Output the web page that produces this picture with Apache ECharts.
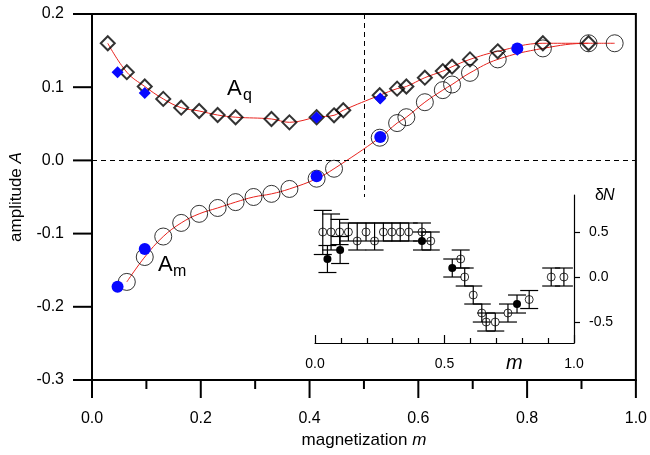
<!DOCTYPE html>
<html>
<head>
<meta charset="utf-8">
<script src="https://cdn.jsdelivr.net/npm/echarts@6/dist/echarts.min.js"></script>
<style>
  html, body { margin: 0; padding: 0; background: #fff; }
  #wrap { position: relative; width: 650px; height: 455px; }
  #chart, #inset { position: absolute; left: 0; top: 0; width: 650px; height: 455px; }
</style>
</head>
<body>
<div id="wrap">
  <div id="chart"></div>
  <div id="inset"></div>
</div>
<script>
// main plot: A_q (open diamonds) and A_m (open circles), blue = filled points
const mQ = [0.029, 0.064, 0.097, 0.131, 0.164, 0.197, 0.231, 0.264, 0.330, 0.363, 0.413, 0.445, 0.462,
  0.529, 0.561, 0.578, 0.612, 0.645, 0.662, 0.695, 0.746, 0.829, 0.913];
const aQ = [0.160, 0.1205, 0.101, 0.084, 0.072, 0.0675, 0.062, 0.059, 0.0566, 0.052, 0.059, 0.0616, 0.0685,
  0.089, 0.098, 0.101, 0.113, 0.122, 0.128, 0.138, 0.149, 0.160, 0.160];
const mQblue = [0.047, 0.097, 0.413, 0.530, 0.782];
const aQblue = [0.1205, 0.092, 0.0585, 0.0845, 0.151];

const mM = [0.064, 0.097, 0.131, 0.164, 0.197, 0.231, 0.264, 0.297, 0.330, 0.363, 0.413, 0.445,
  0.529, 0.561, 0.578, 0.612, 0.645, 0.662, 0.695, 0.746, 0.829, 0.913, 0.961];
const aM = [-0.166, -0.132, -0.104, -0.0854, -0.073, -0.065, -0.057, -0.050, -0.0457, -0.039, -0.025, -0.0114,
  0.031, 0.051, 0.059, 0.0795, 0.096, 0.1037, 0.1196, 0.138, 0.153, 0.160, 0.160];
const mMblue = [0.047, 0.097, 0.413, 0.530, 0.782];
const aMblue = [-0.1726, -0.121, -0.0215, 0.032, 0.153];

// main axis tick values
const xMajor = [0, 0.2, 0.4, 0.6, 0.8, 1.0];
const xMinor = [0.1, 0.3, 0.5, 0.7, 0.9];
const yMajor = [-0.3, -0.2, -0.1, 0, 0.1, 0.2];
const X_MIN = 0, Y_MIN = -0.3;

// inset: deltaN with error bars
const inM = [0.030, 0.062, 0.095, 0.129, 0.163, 0.197, 0.230, 0.264, 0.297, 0.329, 0.362, 0.413, 0.447,
  0.5625, 0.578, 0.611, 0.644, 0.661, 0.696, 0.745, 0.827, 0.912, 0.961];
const inN = [0.5, 0.5, 0.5, 0.5, 0.4, 0.5, 0.4, 0.5, 0.5, 0.5, 0.5, 0.5, 0.4,
  0.2, 0.0, -0.2, -0.4, -0.5, -0.5, -0.4, -0.25, 0.0, 0.0];
const inLo = [0.25, 0.3, 0.36, 0.4, 0.3, 0.4, 0.3, 0.4, 0.4, 0.4, 0.4, 0.4, 0.3,
  0.1, -0.1, -0.3, -0.5, -0.6, -0.6, -0.5, -0.35, -0.1, -0.1];
const inHi = [0.74, 0.7, 0.64, 0.6, 0.6, 0.6, 0.6, 0.6, 0.6, 0.6, 0.6, 0.6, 0.5,
  0.3, 0.1, -0.1, -0.3, -0.4, -0.4, -0.3, -0.15, 0.1, 0.1];
const fM = [0.048, 0.097, 0.413, 0.530, 0.780];
const fN = [0.2, 0.3, 0.4, 0.1, -0.3];
const fLo = [0.05, 0.15, 0.3, 0.0, -0.4];
const fHi = [0.35, 0.45, 0.5, 0.2, -0.2];

const insetYTicks = [-0.5, 0, 0.5];

const zip = (a, b) => a.map((v, i) => [v, b[i]]);
const zip3 = (a, b, c) => a.map((v, i) => [v, b[i], c[i]]);

const FONT = 'Liberation Sans, Arial, Helvetica, sans-serif';
const BLUE = '#0808ff';
const RED = '#e8231e';

function errorBar(params, api) {
  const x = api.value(0);
  const lo = api.coord([x, api.value(1)]);
  const hi = api.coord([x, api.value(2)]);
  const w = 9;
  const st = { stroke: '#000', lineWidth: 1.2 };
  return {
    type: 'group',
    children: [
      { type: 'line', shape: { x1: lo[0], y1: lo[1], x2: hi[0], y2: hi[1] }, style: st },
      { type: 'line', shape: { x1: lo[0] - w, y1: lo[1], x2: lo[0] + w, y2: lo[1] }, style: st },
      { type: 'line', shape: { x1: hi[0] - w, y1: hi[1], x2: hi[0] + w, y2: hi[1] }, style: st }
    ]
  };
}

// the axis ticks of the main grid do not come out in this build, so they are
// drawn from the tick values through the grid's own scales
function xTick(len) {
  return function (params, api) {
    const p = api.coord([api.value(0), Y_MIN]);
    return { type: 'line', shape: { x1: p[0], y1: p[1], x2: p[0], y2: p[1] + len },
      style: { stroke: '#000', lineWidth: 2 } };
  };
}
function yTick(len) {
  return function (params, api) {
    const p = api.coord([X_MIN, api.value(0)]);
    return { type: 'line', shape: { x1: p[0] - len, y1: p[1], x2: p[0], y2: p[1] },
      style: { stroke: '#000', lineWidth: 2 } };
  };
}

// main chart
const chart = echarts.init(document.getElementById('chart'));
chart.setOption({
  animation: false,
  grid: { left: 91, right: 14, top: 14, bottom: 75, show: true, borderColor: '#000', borderWidth: 2 },
  xAxis: {
    type: 'value', min: 0, max: 1, interval: 0.2,
    name: 'magnetization {i|m}', nameLocation: 'middle', nameGap: 51,
    nameTextStyle: { fontSize: 17, color: '#000', fontFamily: FONT,
      rich: { i: { fontSize: 17, fontStyle: 'italic', fontFamily: FONT } } },
    axisLine: { show: true, onZero: false, lineStyle: { color: '#000', width: 2 } },
    axisTick: { show: false },
    axisLabel: { fontSize: 16, color: '#000', fontFamily: FONT, margin: 31, formatter: v => v.toFixed(1) },
    splitLine: { show: false }
  },
  yAxis: {
    type: 'value', min: -0.3, max: 0.2, interval: 0.1,
    name: 'amplitude {i|A}', nameLocation: 'middle', nameGap: 67,
    nameTextStyle: { fontSize: 17, color: '#000', fontFamily: FONT,
      rich: { i: { fontSize: 17, fontStyle: 'italic', fontFamily: FONT } } },
    axisLine: { show: true, onZero: false, lineStyle: { color: '#000', width: 2 } },
    axisTick: { show: false },
    axisLabel: { fontSize: 16, color: '#000', fontFamily: FONT, margin: 28, formatter: v => v.toFixed(1) },
    splitLine: { show: false }
  },
  graphic: [
    { type: 'text', left: 227, top: 78, style: { text: 'A', font: '22px ' + FONT, fill: '#000' } },
    { type: 'text', left: 243, top: 88, style: { text: 'q', font: '16px ' + FONT, fill: '#000' } },
    { type: 'text', left: 158, top: 254, style: { text: 'A', font: '22px ' + FONT, fill: '#000' } },
    { type: 'text', left: 173, top: 264, style: { text: 'm', font: '16px ' + FONT, fill: '#000' } }
  ],
  series: [
    {
      type: 'custom', renderItem: xTick(18), clip: false, silent: true,
      data: xMajor.map(v => [v]), encode: { x: 0 }, z: 1
    },
    {
      type: 'custom', renderItem: xTick(9), clip: false, silent: true,
      data: xMinor.map(v => [v]), encode: { x: 0 }, z: 1
    },
    {
      type: 'custom', renderItem: yTick(19), clip: false, silent: true,
      data: yMajor.map(v => [v]), encode: { y: 0 }, z: 1
    },
    {
      type: 'line', data: zip(mQ, aQ), smooth: 0.4,
      symbol: 'none', lineStyle: { color: RED, width: 1 }, z: 2,
      markLine: {
        silent: true, symbol: 'none', label: { show: false },
        lineStyle: { color: '#000', width: 1, type: [5, 4] },
        data: [
          { yAxis: 0 },
          [{ coord: [0.5, 0.2] }, { coord: [0.5, -0.05] }]
        ]
      }
    },
    {
      type: 'line', data: zip(mM, aM), smooth: 0.4,
      symbol: 'none', lineStyle: { color: RED, width: 1 }, z: 2
    },
    {
      type: 'scatter', data: zip(mQ, aQ), symbol: 'diamond', symbolSize: 14,
      itemStyle: { color: 'rgba(0,0,0,0)', borderColor: '#000', borderWidth: 2 }, z: 3
    },
    {
      type: 'scatter', data: zip(mM, aM), symbol: 'circle', symbolSize: 17,
      itemStyle: { color: 'rgba(0,0,0,0)', borderColor: '#000', borderWidth: 1 }, z: 3
    },
    {
      type: 'scatter', data: zip(mQblue, aQblue), symbol: 'diamond', symbolSize: 12,
      itemStyle: { color: BLUE, opacity: 1 }, z: 4
    },
    {
      type: 'scatter', data: zip(mMblue, aMblue), symbol: 'circle', symbolSize: 12,
      itemStyle: { color: BLUE, opacity: 1 }, z: 4
    }
  ]
});

// inset chart, overlaid on top with a transparent background
const inset = echarts.init(document.getElementById('inset'));
inset.setOption({
  animation: false,
  backgroundColor: 'transparent',
  textStyle: { fontFamily: FONT },
  grid: { left: 315, right: 76, top: 195, bottom: 112 },
  xAxis: {
    type: 'value', min: 0, max: 1, interval: 0.5,
    axisLine: { show: true, onZero: false, lineStyle: { color: '#000', width: 1.2 } },
    axisTick: { show: true, inside: true, length: 8, lineStyle: { width: 1.2, color: '#000' } },
    minorTick: { show: true, splitNumber: 5, length: 5, lineStyle: { width: 1.2, color: '#000' } },
    axisLabel: { fontSize: 14, color: '#000', margin: 14, formatter: v => v.toFixed(1) },
    splitLine: { show: false }
  },
  yAxis: {
    type: 'value', min: -0.733, max: 0.911, position: 'right',
    axisLine: { show: true, onZero: false, lineStyle: { color: '#000', width: 1.2 } },
    axisTick: { show: true, length: 6, customValues: insetYTicks, lineStyle: { width: 1.2, color: '#000' } },
    axisLabel: { fontSize: 14, color: '#000', margin: 15, customValues: insetYTicks,
      formatter: v => v.toFixed(1) },
    splitLine: { show: false }
  },
  graphic: [
    { type: 'text', left: 506, top: 353, style: { text: 'm', font: 'italic 20px ' + FONT, fill: '#000' } },
    { type: 'text', left: 595, top: 188, style: { text: 'δ', font: '16px ' + FONT, fill: '#000' } },
    { type: 'text', left: 603, top: 188, style: { text: 'N', font: 'italic 16px ' + FONT, fill: '#000' } }
  ],
  series: [
    {
      type: 'custom', renderItem: errorBar,
      data: zip3(inM, inLo, inHi), encode: { x: 0, y: [1, 2] }, z: 3
    },
    {
      type: 'custom', renderItem: errorBar,
      data: zip3(fM, fLo, fHi), encode: { x: 0, y: [1, 2] }, z: 3
    },
    {
      type: 'scatter', data: zip(inM, inN), symbol: 'circle', symbolSize: 8,
      itemStyle: { color: 'rgba(0,0,0,0)', borderColor: '#000', borderWidth: 1 }, z: 4
    },
    {
      type: 'scatter', data: zip(fM, fN), symbol: 'circle', symbolSize: 8,
      itemStyle: { color: '#000', opacity: 1 }, z: 4
    }
  ]
});
</script>
</body>
</html>
